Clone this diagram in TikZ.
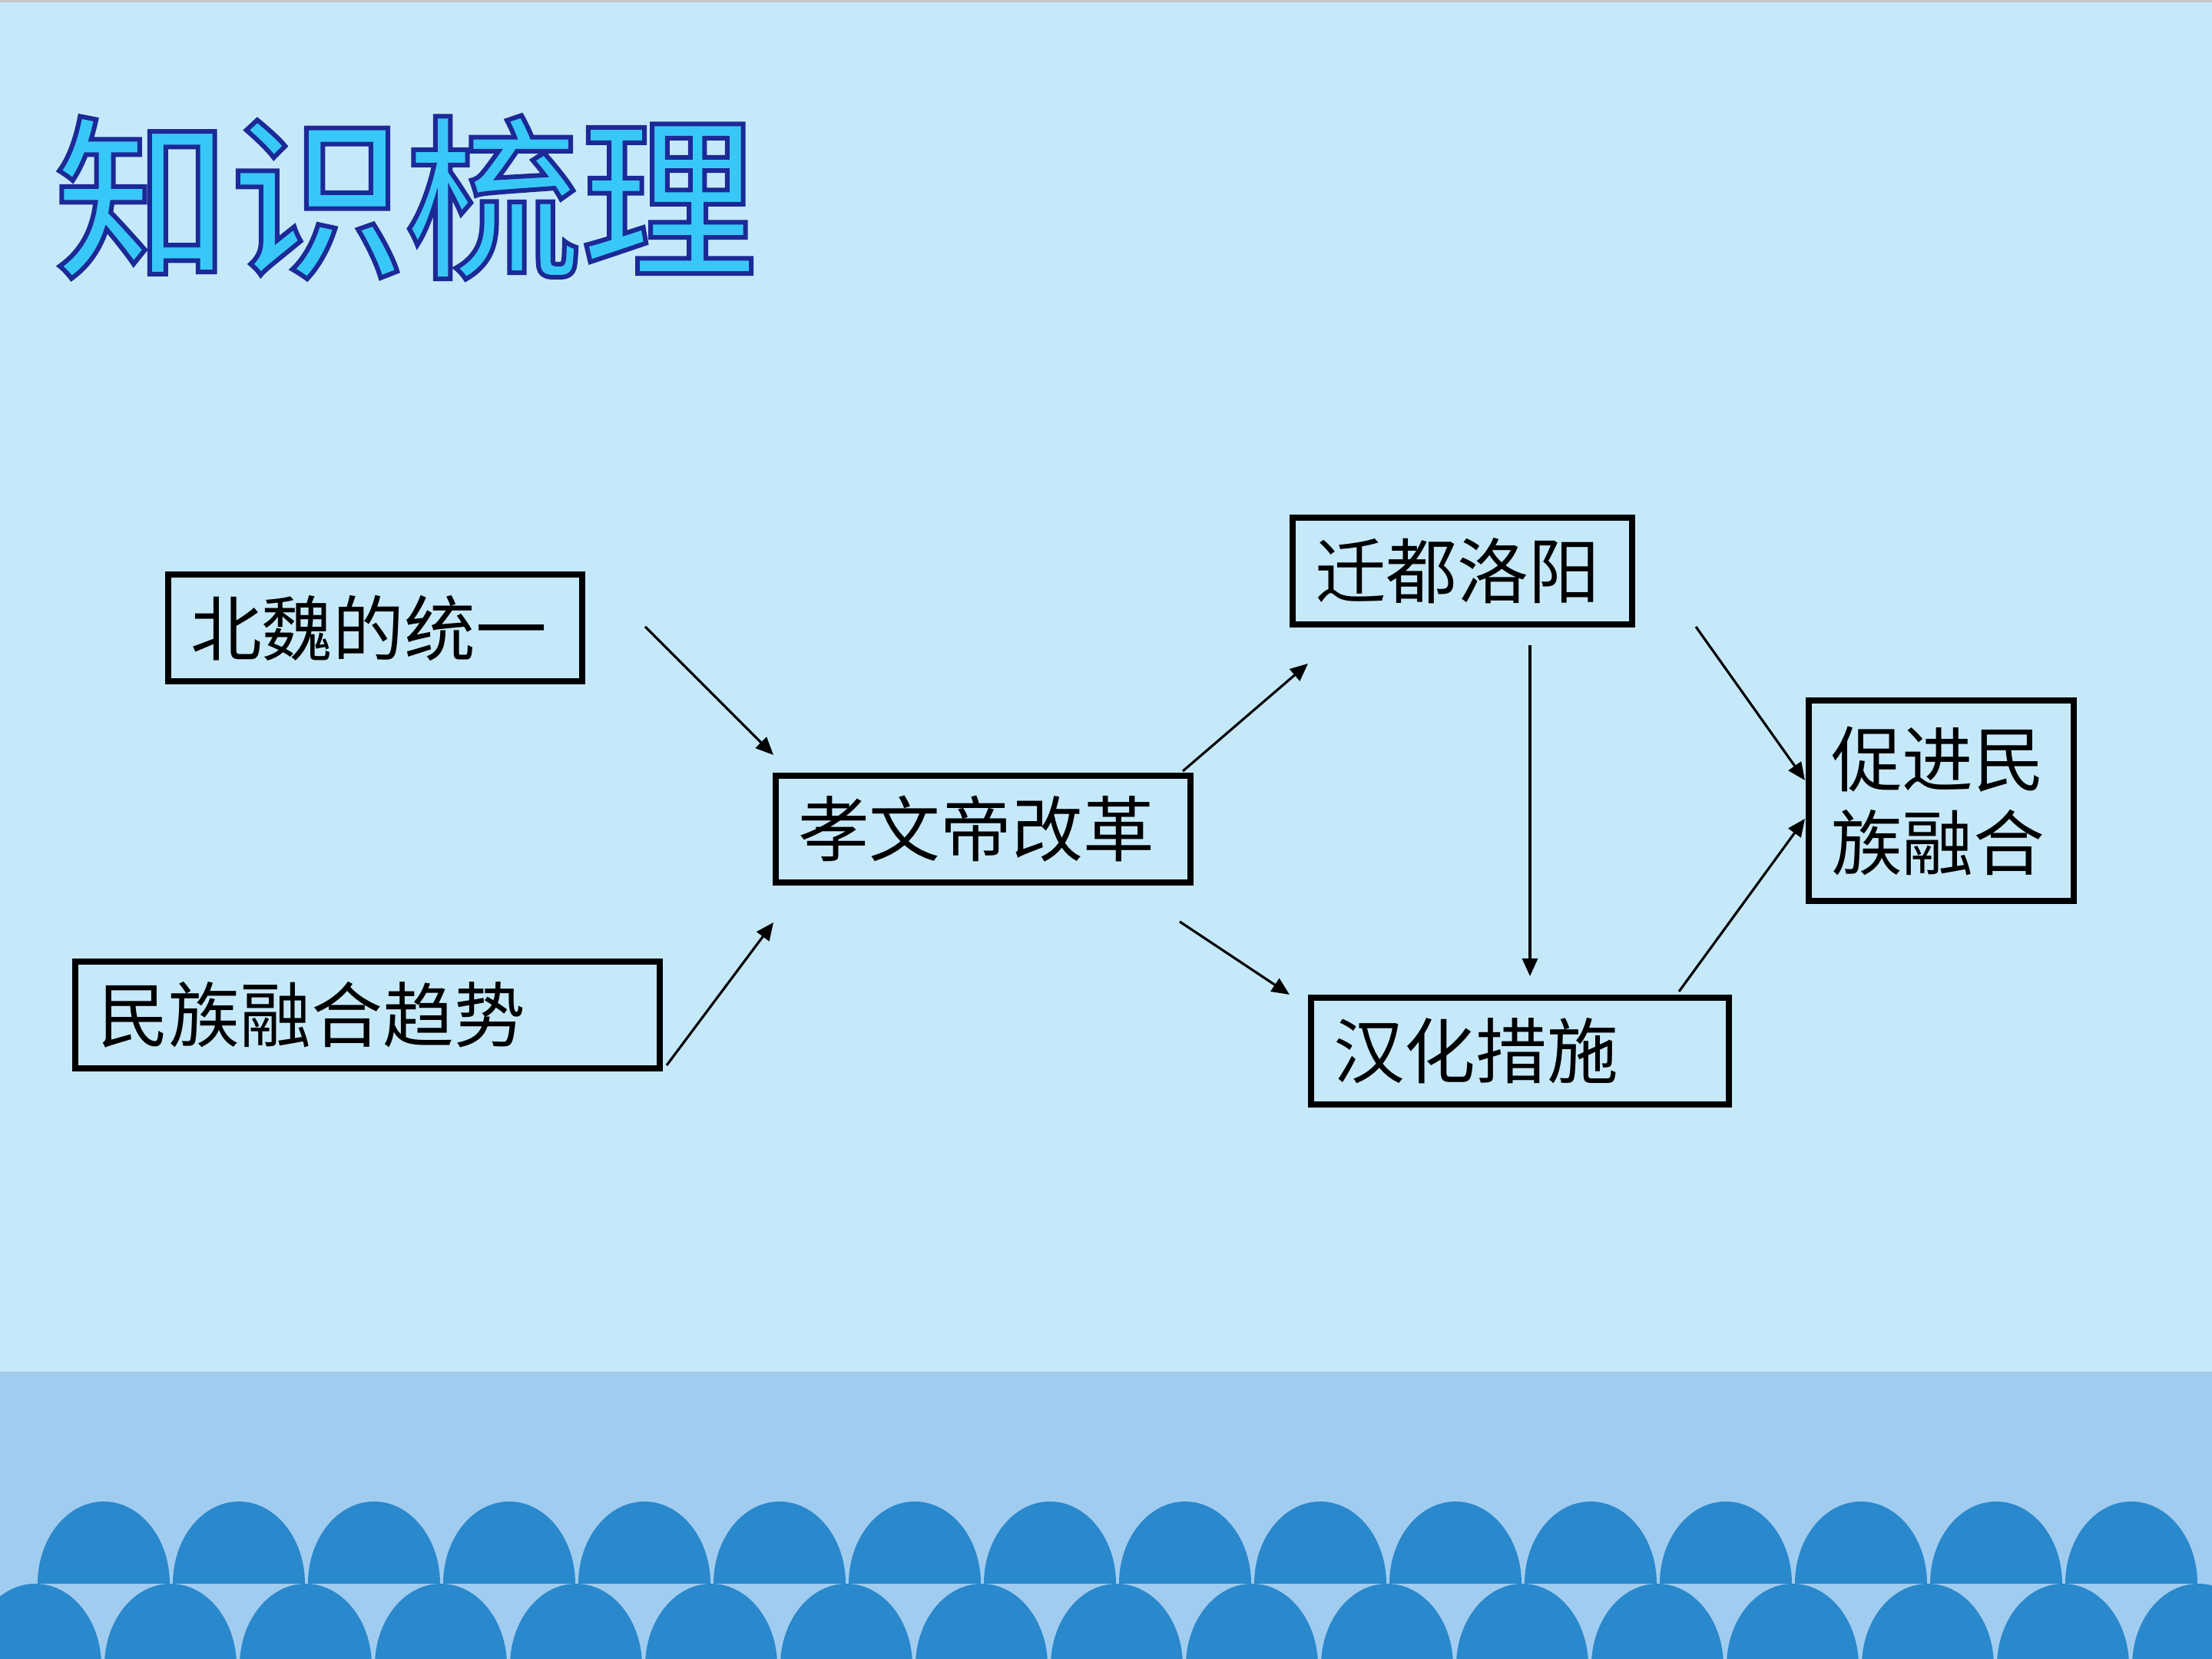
\documentclass[tikz,border=0pt]{standalone}
\usepackage{fontspec}
\newfontfamily\cjk{Noto Sans CJK SC}
\newfontfamily\cjktitle{Noto Sans CJK SC Medium}
\usetikzlibrary{arrows.meta}
\definecolor{bgtop}{RGB}{198,233,250}
\definecolor{bgband}{RGB}{160,204,240}
\definecolor{wave}{RGB}{42,136,204}
\definecolor{titlefill}{RGB}{56,200,248}
\definecolor{titleline}{RGB}{28,40,150}
\newcommand\outlinedtext[1]{\special{pdf:literal direct 2 Tr 1.7 w 0.11 0.16 0.59 RG}#1\special{pdf:literal direct 0 Tr}}
\begin{document}
\begin{tikzpicture}[x=1cm,y=1cm,
  box/.style={draw=black, line width=2.3pt, inner xsep=0.29cm, inner ysep=0pt,
    align=left, font=\cjk\fontsize{26.4pt}{31pt}\selectfont, minimum height=1.387cm},
  arr/.style={draw=black, line width=0.9pt, -{Triangle[length=0.23cm,width=0.2cm]}},
  titlefont/.style={font=\cjktitle\fontsize{65pt}{70pt}\selectfont, inner sep=0pt},
]
\useasboundingbox (0,0) rectangle (28.8,21.6);
\begin{scope}
\clip (0,0) rectangle (28.8,21.6);
\fill[bgtop] (0,0) rectangle (28.8,21.6);
\fill[gray!45] (0,21.57) rectangle (28.8,21.6);
\fill[bgband] (0,0) rectangle (28.8,3.74);
% top row of domes
\foreach \i in {0,...,15} {
  \fill[wave] ({1.35+1.76*\i-0.86},0.98) arc[start angle=180,end angle=0,x radius=0.86,y radius=1.07] -- cycle;
}
% bottom row of domes
\foreach \k in {0,...,16} {
  \fill[wave] ({0.46+1.76*\k-0.86},-0.09) arc[start angle=180,end angle=0,x radius=0.86,y radius=1.07] -- cycle;
}
\end{scope}

% title: light blue letters with a dark blue outline
\node[titlefont, text=titlefill] (title) at (5.28,19.03) {\outlinedtext{知识梳理}};

% boxes
\node[box, minimum width=5.387cm, text width=4.807cm] (bw) at (4.885,13.425) {北魏的统一};
\node[box, minimum width=7.607cm, text width=7.027cm] (mz) at (4.785,8.385) {民族融合趋势};
\node[box, minimum width=5.397cm, text width=4.817cm] (xw) at (12.80,10.805) {孝文帝改革};
\node[box, minimum width=4.417cm, text width=3.837cm] (qd) at (19.04,14.165) {迁都洛阳};
\node[box, minimum width=5.437cm, text width=4.857cm] (hh) at (19.79,7.915) {汉化措施};
\node[box, minimum width=3.447cm, minimum height=2.607cm, text width=2.867cm] (cj) at (25.275,11.175) {促进民\\族融合};

% connector ends
\coordinate (a1s) at (8.40,13.44);  \coordinate (a1e) at (10.07,11.77);
\coordinate (a2s) at (8.68,7.73);   \coordinate (a2e) at (10.07,9.59);
\coordinate (a3s) at (15.40,11.56); \coordinate (a3e) at (17.03,12.96);
\coordinate (a4s) at (15.36,9.60);  \coordinate (a4e) at (16.79,8.65);
\coordinate (a5s) at (19.92,13.20); \coordinate (a5e) at (19.92,8.89);
\coordinate (a6s) at (22.08,13.44); \coordinate (a6e) at (23.50,11.44);
\coordinate (a7s) at (21.86,8.69);  \coordinate (a7e) at (23.50,10.94);

\draw[arr] (a1s) -- (a1e);
\draw[arr] (a2s) -- (a2e);
\draw[arr] (a3s) -- (a3e);
\draw[arr] (a4s) -- (a4e);
\draw[arr] (a5s) -- (a5e);
\draw[arr] (a6s) -- (a6e);
\draw[arr] (a7s) -- (a7e);
\end{tikzpicture}
\end{document}
